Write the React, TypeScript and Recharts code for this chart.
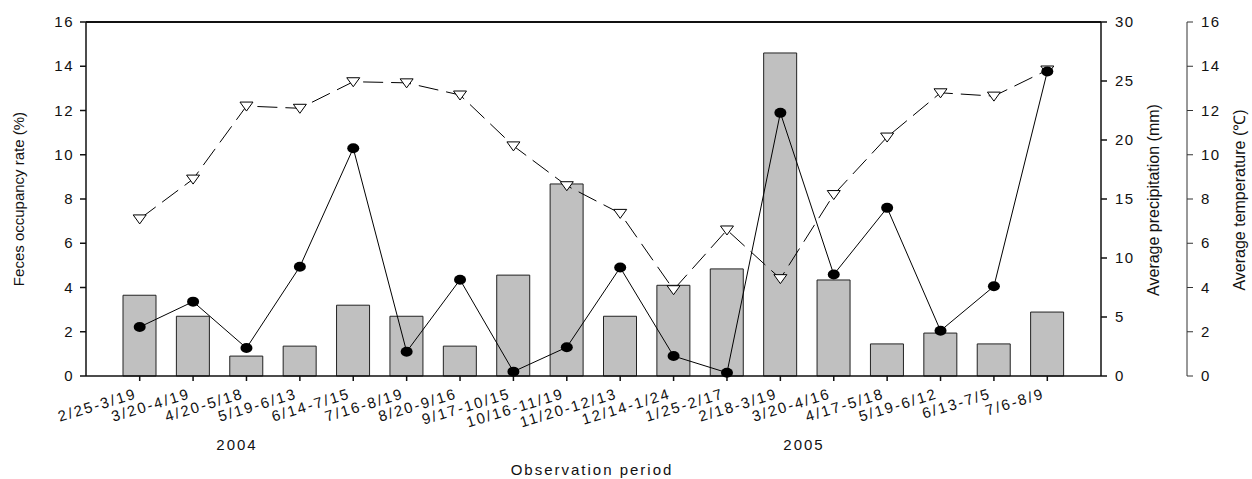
import React from 'react';
import { ComposedChart, Bar, Line, XAxis, YAxis, ReferenceLine } from 'recharts';

const periods = [
  '2/25-3/19', '3/20-4/19', '4/20-5/18', '5/19-6/13', '6/14-7/15', '7/16-8/19',
  '8/20-9/16', '9/17-10/15', '10/16-11/19', '11/20-12/13', '12/14-1/24', '1/25-2/17',
  '2/18-3/19', '3/20-4/16', '4/17-5/18', '5/19-6/12', '6/13-7/5', '7/6-8/9',
];
const feces = [3.65, 2.7, 0.9, 1.35, 3.2, 2.7, 1.35, 4.56, 8.68, 2.7, 4.1, 4.84, 14.6, 4.34, 1.45, 1.94, 1.45, 2.89];
const precipitation = [4.15, 6.3, 2.37, 9.26, 19.3, 2.06, 8.16, 0.37, 2.44, 9.19, 1.69, 0.28, 22.3, 8.6, 14.25, 3.84, 7.6, 25.8];
const temperature = [7.1, 8.9, 12.2, 12.1, 13.3, 13.25, 12.7, 10.4, 8.6, 7.35, 3.9, 6.6, 4.4, 8.2, 10.8, 12.8, 12.65, 13.83];
const leftTicks = [0, 2, 4, 6, 8, 10, 12, 14, 16];
const precipTicks = [0, 5, 10, 15, 20, 25, 30];
const tempTicks = [0, 2, 4, 6, 8, 10, 12, 14, 16];

const data = periods.map((p, i) => ({
  period: p,
  feces: feces[i],
  precipitation: precipitation[i],
  temperature: temperature[i],
}));

const FONT = 'Liberation Sans, Arial, sans-serif';
const INK = '#111';

const XTick = ({ x, y, payload }: any) => (
  <text
    x={x - 2}
    y={y + 15}
    transform={`rotate(-17, ${x - 2}, ${y + 15})`}
    textAnchor="end"
    fontFamily={FONT}
    fontSize={15}
    letterSpacing={2}
    fill={INK}
  >
    {payload.value}
  </text>
);

const YTickLeft = ({ x, y, payload }: any) => (
  <text x={x - 4} y={y + 5} textAnchor="end" fontFamily={FONT} fontSize={15} letterSpacing={1.5} fill={INK}>
    {payload.value}
  </text>
);

const YTickRight = ({ x, y, payload }: any) => (
  <text x={x + 6} y={y + 5} textAnchor="start" fontFamily={FONT} fontSize={15} letterSpacing={1.5} fill={INK}>
    {payload.value}
  </text>
);

const CircleDot = ({ cx, cy }: any) => <ellipse cx={cx} cy={cy} rx={6} ry={5} fill="#000" />;

const TriangleDot = ({ cx, cy }: any) => (
  <polygon
    points={`${cx - 6.5},${cy - 4} ${cx + 6.5},${cy - 4} ${cx},${cy + 5}`}
    fill="#fff"
    stroke="#000"
    strokeWidth={1}
  />
);

const App: React.FC = () => {
  return (
    <div style={{ position: 'absolute', left: 0, top: 0, width: 1252, height: 479, background: '#fff' }}>
      <ComposedChart width={1252} height={479} data={data} margin={{ top: 22, right: 0, left: 0, bottom: 0 }}>
        <XAxis
          dataKey="period"
          height={103}
          padding={{ left: 27, right: 27 }}
          tick={<XTick />}
          tickSize={5}
          interval={0}
          stroke={INK}
          strokeWidth={1.5}
          label={{
            content: () => (
              <g fontFamily={FONT} fontSize={15} fill={INK} letterSpacing={2}>
                <text x={237} y={450} textAnchor="middle">2004</text>
                <text x={804} y={450} textAnchor="middle">2005</text>
                <text x={592} y={475} textAnchor="middle">Observation period</text>
              </g>
            ),
          }}
        />
        <YAxis
          yAxisId="left"
          orientation="left"
          width={86}
          domain={[0, 16]}
          ticks={leftTicks}
          tick={<YTickLeft />}
          tickSize={6}
          stroke={INK}
          strokeWidth={1.5}
          label={{
            content: () => (
              <text x={24} y={199} transform="rotate(-90, 24, 199)" textAnchor="middle" fontFamily={FONT} fontSize={15} fill={INK}>
                Feces occupancy rate (%)
              </text>
            ),
          }}
        />
        <YAxis
          yAxisId="precip"
          orientation="right"
          width={86}
          domain={[0, 30]}
          ticks={precipTicks}
          tick={<YTickRight />}
          tickSize={6}
          stroke={INK}
          strokeWidth={1.5}
          label={{
            content: () => (
              <text x={1159} y={200} transform="rotate(-90, 1159, 200)" textAnchor="middle" fontFamily={FONT} fontSize={16} fill={INK}>
                Average precipitation (mm)
              </text>
            ),
          }}
        />
        <YAxis
          yAxisId="temp"
          orientation="right"
          width={65}
          domain={[0, 16]}
          ticks={tempTicks}
          tick={<YTickRight />}
          tickSize={6}
          stroke="#333"
          strokeWidth={1}
          label={{
            content: () => (
              <text x={1245} y={200} transform="rotate(-90, 1245, 200)" textAnchor="middle" fontFamily={FONT} fontSize={16} fill={INK}>
                Average temperature (℃)
              </text>
            ),
          }}
        />
        <ReferenceLine yAxisId="left" y={16} stroke={INK} strokeWidth={2} />
        <Bar
          yAxisId="left"
          dataKey="feces"
          barSize={33}
          fill="#c0c0c0"
          stroke="#222"
          strokeWidth={1}
          isAnimationActive={false}
        />
        <Line
          yAxisId="temp"
          dataKey="temperature"
          stroke="#000"
          strokeWidth={1}
          strokeDasharray="20 8"
          dot={<TriangleDot />}
          activeDot={false}
          isAnimationActive={false}
        />
        <Line
          yAxisId="precip"
          dataKey="precipitation"
          stroke="#000"
          strokeWidth={1}
          dot={<CircleDot />}
          activeDot={false}
          isAnimationActive={false}
        />
      </ComposedChart>
    </div>
  );
};

export default App;
